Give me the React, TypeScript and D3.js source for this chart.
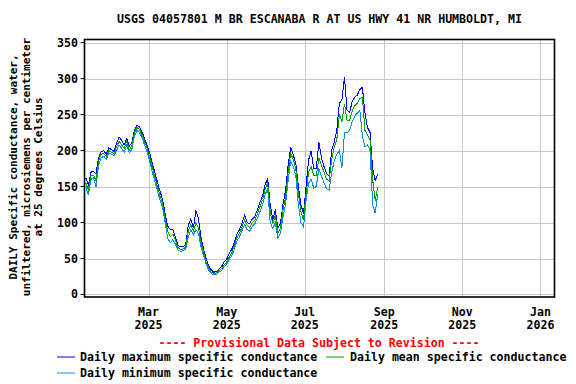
import * as d3 from "d3";

// daily values, sampled every 2 days starting Jan 11, 2025
const startDate = new Date(Date.UTC(2025, 0, 11));
const stepDays = 2;

const dailyMax = [
  162, 152, 170, 171, 168, 190, 198, 200, 195, 204, 201, 199, 210, 219, 214, 208,
  217, 206, 211, 229, 235, 233, 226, 216, 207, 196, 182, 169, 156, 143, 132, 112,
  95, 90, 90, 80, 68, 66, 66, 69, 96, 105, 92, 117, 105, 80, 63, 50, 40, 34, 31,
  32, 35, 39, 45, 49, 57, 63, 73, 84, 90, 99, 110, 100, 98, 105, 108, 118, 128,
  137, 152, 162, 125, 104, 118, 92, 99, 125, 145, 180, 205, 194, 182, 150, 125,
  112, 150, 187, 200, 175, 175, 212, 190, 178, 168, 165, 200, 212, 228, 266, 270,
  302, 256, 253, 268, 274, 277, 285, 288, 252, 232, 225, 175, 158, 168,
];

const dailyMean = [
  155, 145, 165, 166, 158, 185, 195, 196, 192, 200, 198, 196, 205, 213, 208, 203,
  213, 201, 207, 225, 232, 229, 222, 212, 203, 190, 176, 163, 150, 137, 127, 105,
  88, 80, 84, 76, 65, 63, 63, 66, 88, 97, 88, 100, 92, 72, 58, 45, 37, 31, 29,
  30, 33, 36, 41, 45, 52, 58, 68, 79, 85, 94, 103, 96, 93, 100, 103, 112, 122,
  132, 145, 156, 115, 98, 110, 85, 92, 118, 135, 170, 196, 188, 175, 140, 115,
  103, 140, 170, 178, 165, 165, 190, 180, 170, 160, 158, 188, 205, 215, 250, 240,
  265, 242, 242, 255, 262, 266, 272, 274, 228, 222, 215, 160, 130, 150,
];

const dailyMin = [
  150, 138, 160, 162, 150, 180, 190, 192, 188, 196, 195, 193, 200, 208, 203, 198,
  208, 197, 202, 220, 228, 225, 218, 207, 198, 184, 170, 157, 144, 131, 121, 99,
  78, 72, 76, 70, 62, 60, 61, 63, 80, 90, 83, 90, 85, 66, 54, 42, 34, 29, 27,
  28, 31, 33, 38, 42, 49, 54, 63, 74, 80, 89, 97, 90, 88, 95, 98, 106, 115,
  125, 138, 148, 100, 92, 100, 78, 85, 108, 125, 158, 185, 178, 165, 125, 100,
  94, 130, 155, 160, 148, 150, 175, 165, 155, 147, 145, 170, 185, 195, 200, 176,
  225, 225, 228, 240, 248, 252, 256, 220, 205, 208, 200, 125, 113, 140,
];

const yTicks = [0, 50, 100, 150, 200, 250, 300, 350];
const xTickDates = [
  new Date(Date.UTC(2025, 2, 1)),
  new Date(Date.UTC(2025, 4, 1)),
  new Date(Date.UTC(2025, 6, 1)),
  new Date(Date.UTC(2025, 8, 1)),
  new Date(Date.UTC(2025, 10, 1)),
  new Date(Date.UTC(2026, 0, 1)),
];

const title = "USGS 04057801 M BR ESCANABA R AT US HWY 41 NR HUMBOLDT, MI";
const yLabelLines = [
  "DAILY Specific conductance, water,",
  "unfiltered, microsiemens per centimeter",
  "at 25 degrees Celsius",
];

const colors = { max: "#0000ff", mean: "#00a000", min: "#0a8fd6" };
const font = "'DejaVu Sans Mono', monospace";

const App = () => {
  const width = 576;
  const height = 384;
  const plot = { left: 84.5, right: 554.5, top: 39.5, bottom: 297 };

  const x = d3
    .scaleUtc()
    .domain([new Date(Date.UTC(2025, 0, 10)), new Date(Date.UTC(2026, 0, 12))])
    .range([plot.left, plot.right]);

  const y = d3.scaleLinear().domain([-3.5, 354.4]).range([plot.bottom, plot.top]);

  const dates = dailyMean.map((_, i) => d3.utcDay.offset(startDate, i * stepDays));

  const line = d3
    .line<number>()
    .x((_, i) => x(dates[i]))
    .y((d) => y(d));

  const fmtMonth = d3.utcFormat("%b");
  const fmtYear = d3.utcFormat("%Y");

  return (
    <svg
      width={width}
      height={height}
      style={{ position: "absolute", left: 0, top: 0, background: "white" }}
      fontFamily={font}
      fontWeight="bold"
    >
      <text x={(plot.left + plot.right) / 2} y={23} textAnchor="middle" fontSize={11.6}>
        {title}
      </text>

      {/* grid */}
      {yTicks.map((t) => (
        <line
          key={"gy" + t}
          x1={plot.left}
          x2={plot.right}
          y1={Math.round(y(t)) + 0.5}
          y2={Math.round(y(t)) + 0.5}
          stroke="#c8c8c8"
          strokeWidth={1}
        />
      ))}
      {xTickDates.map((d) => (
        <line
          key={"gx" + d.getTime()}
          x1={Math.round(x(d)) + 0.5}
          x2={Math.round(x(d)) + 0.5}
          y1={plot.top}
          y2={plot.bottom}
          stroke="#c8c8c8"
          strokeWidth={1}
        />
      ))}

      {/* series */}
      <g fill="none" strokeWidth={1} shapeRendering="crispEdges">
        <path d={line(dailyMax) ?? ""} stroke={colors.max} />
        <path d={line(dailyMin) ?? ""} stroke={colors.min} />
        <path d={line(dailyMean) ?? ""} stroke={colors.mean} />
      </g>

      {/* frame */}
      <rect
        x={plot.left}
        y={plot.top}
        width={plot.right - plot.left}
        height={plot.bottom - plot.top}
        fill="none"
        stroke="black"
        strokeWidth={1.6}
      />

      {/* y axis */}
      {yTicks.map((t) => (
        <g key={"ty" + t}>
          <line x1={plot.left - 4} x2={plot.left} y1={y(t)} y2={y(t)} stroke="black" />
          <text x={78} y={y(t) + 4} textAnchor="end" fontSize={11.6}>
            {t}
          </text>
        </g>
      ))}
      {yLabelLines.map((s, i) => (
        <text
          key={s}
          transform={`translate(${17 + i * 12.6}, 167) rotate(-90)`}
          textAnchor="middle"
          fontSize={11}
        >
          {s}
        </text>
      ))}

      {/* x axis */}
      {xTickDates.map((d) => (
        <text key={"tx" + d.getTime()} x={x(d)} textAnchor="middle" fontSize={11.6}>
          <tspan x={x(d)} y={316}>
            {fmtMonth(d)}
          </tspan>
          <tspan x={x(d)} y={329}>
            {fmtYear(d)}
          </tspan>
        </text>
      ))}

      <text x={319} y={347} textAnchor="middle" fontSize={11.6} fill="#ff0000">
        ---- Provisional Data Subject to Revision ----
      </text>

      {/* legend */}
      <line x1={57} x2={75} y1={357} y2={357} stroke={colors.max} />
      <text x={80} y={361} fontSize={11.6}>
        Daily maximum specific conductance
      </text>
      <line x1={326} x2={344} y1={357} y2={357} stroke={colors.mean} />
      <text x={350} y={361} fontSize={11.6}>
        Daily mean specific conductance
      </text>
      <line x1={57} x2={75} y1={373} y2={373} stroke={colors.min} />
      <text x={80} y={377} fontSize={11.6}>
        Daily minimum specific conductance
      </text>
    </svg>
  );
};

export default App;
